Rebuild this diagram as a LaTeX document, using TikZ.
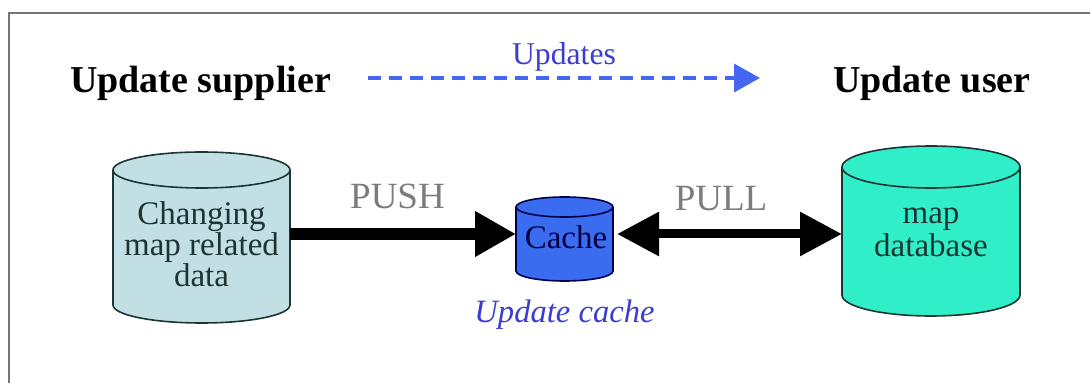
\documentclass[tikz,border=0pt]{standalone}
\usepackage{fontspec}
\setmainfont{Liberation Serif}
\usepackage{tikz}
\usetikzlibrary{positioning, arrows.meta, calc}

\definecolor{srcfill}{HTML}{C2E0E4}
\definecolor{cachefill}{HTML}{3A6CF0}
\definecolor{userfill}{HTML}{30EEC8}
\definecolor{updblue}{HTML}{4466F0}
\definecolor{lblblue}{HTML}{3C3CD0}
\definecolor{framegray}{HTML}{8A8A8A}
\definecolor{celltxt}{HTML}{1E3434}

\newcommand{\drawstore}[4]{%
  \path[draw=#4, fill=#3, line width=1.6pt]
    let \p1=(#1.north west), \p2=(#1.south east), \n1={(\x2-\x1)/2} in
    (\x1,\y1-#2) -- (\x1,\y2+#2)
    arc[start angle=180, end angle=360, x radius=\n1*1pt, y radius=#2]
    -- (\x2,\y1-#2)
    arc[start angle=0, end angle=180, x radius=\n1*1pt, y radius=#2] -- cycle;
  \path[draw=#4, line width=1.6pt]
    let \p1=(#1.north west), \p2=(#1.south east), \n1={(\x2-\x1)/2} in
    (\x1,\y1-#2)
    arc[start angle=180, end angle=360, x radius=\n1*1pt, y radius=#2];
}

\begin{document}
\begin{tikzpicture}[
  x=1pt, y=1pt,
  store/.style={rectangle, inner sep=0pt, outer sep=0pt},
  celltext/.style={align=center, inner sep=0pt, text=celltxt,
                   font=\fontsize{33}{29}\selectfont},
  head/.style={inner sep=0pt, font=\fontsize{38}{44}\selectfont\bfseries},
  lbl/.style={inner sep=0pt, text=framegray!90!black,
              font=\fontsize{37}{44}\selectfont},
  updarr/.style={-{Triangle[length=26pt, width=28pt]}, updblue,
                 line width=3.5pt, dash pattern=on 13pt off 8pt},
  bigarr/.style={-{Triangle[length=41pt, width=43pt]}, line width=12pt},
  dblarr/.style={{Triangle[length=42pt, width=42pt]}-{Triangle[length=42pt, width=42pt]},
                 line width=9pt}
]
\useasboundingbox (0,0) rectangle (1090,383);
\draw[framegray!85!black, line width=2pt] (9,0) -- (9,370) -- (1090,370);

\node[head, anchor=base west] (sup) at (70,290) {Update supplier};
\node[head, anchor=base west] (user) at (833,290) {Update user};

\node[store, minimum width=177pt, minimum height=171pt] (src) at (201.5,145.5) {};
\node[store, minimum width=97pt, minimum height=84pt] (cache) at (564.5,144) {};
\node[store, minimum width=178pt, minimum height=170pt] (db) at (931,152) {};

\drawstore{src}{18pt}{srcfill}{celltxt}
\drawstore{cache}{10pt}{cachefill}{blue!30!black}
\drawstore{db}{21pt}{userfill}{celltxt}

\node[celltext] (srctext) at (201.5,139) {Changing\\map related\\data};
\node[celltext, text=blue!25!black] (cachetext) at (566,146) {Cache};
\node[celltext, font=\fontsize{33}{33}\selectfont] (dbtext) at (931,151) {map\\database};

\node[inner sep=0pt, text=lblblue, font=\fontsize{32.6}{38}\selectfont\itshape,
      below=19pt of cache] (cachelbl) {Update cache};

\draw[updarr, shorten <=37pt, shorten >=73pt]
  ([yshift=15pt]sup.base east) -- ([yshift=15pt]user.base west)
  node[pos=0.464, above=5pt, inner sep=0pt, text=lblblue,
       font=\fontsize{31.7}{38}\selectfont] (updlbl) {Updates};
\draw[bigarr] ([yshift=3.5pt]src.east) -- ([yshift=5pt]cache.west)
  node[lbl, midway, above=19pt, xshift=-5.5pt] (pushlbl) {PUSH};
\draw[dblarr, shorten <=4pt] ([yshift=5pt]cache.east) -- ([yshift=-3pt]db.west)
  node[lbl, midway, above=19pt, xshift=-6.5pt] (pulllbl) {PULL};
\end{tikzpicture}
\end{document}
